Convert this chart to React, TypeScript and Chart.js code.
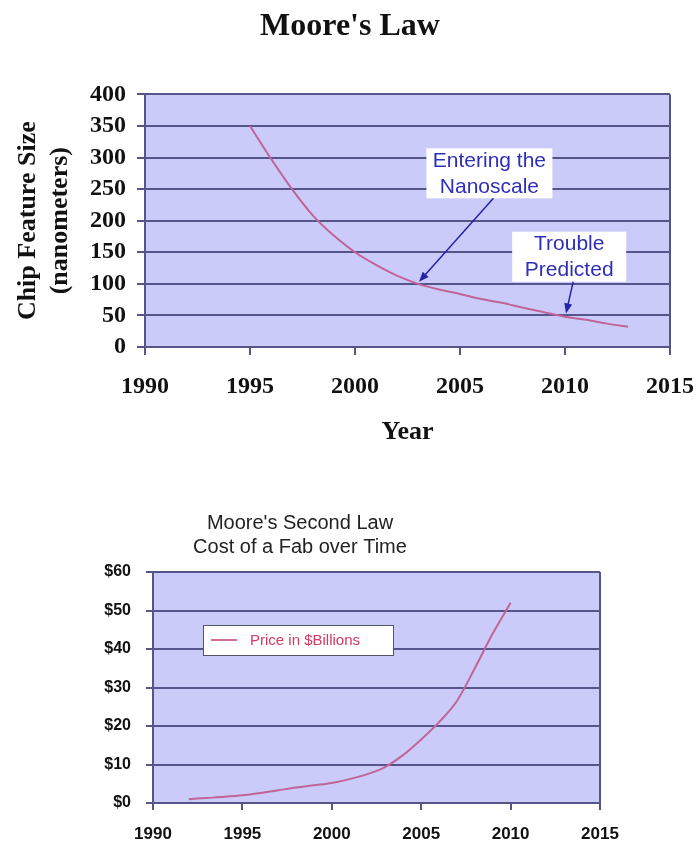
import React, { useEffect, useRef } from "react";
import { Chart, registerables } from "chart.js";
Chart.register(...registerables);

// ---------- Top chart data: Moore's Law ----------
const featureYears = [1995, 1996, 1997, 1998, 1999, 2000, 2001, 2002, 2003, 2004, 2005, 2006, 2007, 2008, 2009, 2010, 2011, 2012, 2013];
const featureSizes = [350, 298, 250, 208, 176, 150, 130, 113, 100, 91, 84, 76, 70, 62, 55, 48, 43, 37, 32];
const topYearTicks = [1990, 1995, 2000, 2005, 2010, 2015];
const topSizeTicks = [0, 50, 100, 150, 200, 250, 300, 350, 400];
const topTitle = "Moore's Law";
const topXTitle = "Year";
const topYTitle = ["Chip Feature Size", "(nanometers)"];
const noteTexts = [["Entering the", "Nanoscale"], ["Trouble", "Predicted"]];
const noteAnchors = [[2006.4, 275], [2010.2, 143]];
const noteTargets = [[2003, 100], [2010, 50]];

// ---------- Bottom chart data: Moore's Second Law ----------
const fabYears = [1992, 1993, 1994, 1995, 1996, 1997, 1998, 1999, 2000, 2001, 2002, 2003, 2004, 2005, 2006, 2007, 2008, 2009, 2010];
const fabCosts = [1.0, 1.3, 1.6, 2.0, 2.6, 3.3, 4.0, 4.6, 5.2, 6.2, 7.5, 9.4, 12.5, 16.5, 21, 26.5, 35, 44, 52];
const bottomYearTicks = [1990, 1995, 2000, 2005, 2010, 2015];
const bottomCostTicks = [0, 10, 20, 30, 40, 50, 60];
const bottomTitle = ["Moore's Second Law", "Cost of a Fab over Time"];
const seriesName = "Price in $Billions";

const PLOT_BG = "#CBCBFA";
const GRID = "#55558A";
const LINE = "#C0649A";
const SERIF = "'Liberation Serif', 'Times New Roman', serif";
const SANS = "'Liberation Sans', Arial, sans-serif";

const plotFrame = {
  id: "plotFrame",
  beforeDraw(chart: any) {
    const { ctx, chartArea } = chart;
    ctx.save();
    ctx.fillStyle = PLOT_BG;
    ctx.fillRect(chartArea.left, chartArea.top, chartArea.width, chartArea.height);
    ctx.restore();
  },
  beforeDatasetsDraw(chart: any) {
    const { ctx, chartArea } = chart;
    ctx.save();
    ctx.strokeStyle = GRID;
    ctx.lineWidth = 2;
    ctx.beginPath();
    ctx.moveTo(chartArea.right, chartArea.top);
    ctx.lineTo(chartArea.right, chartArea.bottom);
    ctx.stroke();
    ctx.restore();
  },
};

function drawArrow(ctx: CanvasRenderingContext2D, x1: number, y1: number, x2: number, y2: number, color: string) {
  const ang = Math.atan2(y2 - y1, x2 - x1);
  const L = 10, W = 4;
  ctx.strokeStyle = color;
  ctx.fillStyle = color;
  ctx.lineWidth = 1.5;
  ctx.beginPath();
  ctx.moveTo(x1, y1);
  ctx.lineTo(x2 - L * 0.7 * Math.cos(ang), y2 - L * 0.7 * Math.sin(ang));
  ctx.stroke();
  ctx.beginPath();
  ctx.moveTo(x2, y2);
  ctx.lineTo(x2 - L * Math.cos(ang) + W * Math.sin(ang), y2 - L * Math.sin(ang) - W * Math.cos(ang));
  ctx.lineTo(x2 - L * Math.cos(ang) - W * Math.sin(ang), y2 - L * Math.sin(ang) + W * Math.cos(ang));
  ctx.closePath();
  ctx.fill();
}

const noteBoxWidths = [126, 114];
const notesPlugin = {
  id: "notes",
  afterDatasetsDraw(chart: any) {
    const { ctx } = chart;
    const xs = chart.scales.x, ys = chart.scales.y;
    ctx.save();
    noteTexts.forEach((lines, i) => {
      const cx = xs.getPixelForValue(noteAnchors[i][0]);
      const cy = ys.getPixelForValue(noteAnchors[i][1]);
      const w = noteBoxWidths[i];
      const lh = 26;
      const h = lines.length * lh - 2;
      ctx.fillStyle = "#FFFFFF";
      ctx.fillRect(cx - w / 2, cy - h / 2, w, h);
      ctx.font = `21px ${SANS}`;
      ctx.fillStyle = "#2E2EB8";
      ctx.textAlign = "center";
      ctx.textBaseline = "middle";
      lines.forEach((t, j) => {
        ctx.fillText(t, cx, cy - h / 2 + lh / 2 + j * lh);
      });
      const tx = xs.getPixelForValue(noteTargets[i][0]);
      const ty = ys.getPixelForValue(noteTargets[i][1]);
      drawArrow(ctx, cx + 4, cy + h / 2, tx + 1, ty - 2, "#2424A8");
    });
    ctx.restore();
  },
};

const legendPlugin = {
  id: "insideLegend",
  afterDatasetsDraw(chart: any) {
    const { ctx, chartArea } = chart;
    const x = chartArea.left + 50, y = chartArea.top + 53, w = 190, h = 30;
    ctx.save();
    ctx.fillStyle = "#FFFFFF";
    ctx.fillRect(x, y, w, h);
    ctx.strokeStyle = "#555566";
    ctx.lineWidth = 1;
    ctx.strokeRect(x + 0.5, y + 0.5, w, h);
    ctx.strokeStyle = "#D0709A";
    ctx.lineWidth = 2;
    ctx.beginPath();
    ctx.moveTo(x + 8, y + h / 2);
    ctx.lineTo(x + 34, y + h / 2);
    ctx.stroke();
    ctx.font = `15px ${SANS}`;
    ctx.fillStyle = "#D43A62";
    ctx.textAlign = "left";
    ctx.textBaseline = "middle";
    ctx.fillText(chart.data.datasets[0].label, x + 47, y + h / 2 + 1);
    ctx.restore();
  },
};

function TopChart() {
  const ref = useRef<HTMLCanvasElement>(null);
  useEffect(() => {
    const chart = new Chart(ref.current!, {
      type: "line",
      data: {
        datasets: [
          {
            label: "Feature size",
            data: featureYears.map((x, i) => ({ x, y: featureSizes[i] })),
            borderColor: LINE,
            borderWidth: 2,
            pointRadius: 0,
            tension: 0.4,
            cubicInterpolationMode: "monotone",
          },
        ],
      },
      options: {
        animation: false,
        responsive: false,
        layout: { padding: { left: 0, right: 0, top: 0, bottom: 0 } },
        plugins: {
          legend: { display: false },
          tooltip: { enabled: false },
          title: {
            display: true,
            text: topTitle,
            color: "#111",
            font: { family: SERIF, size: 32, weight: "bold", lineHeight: 1.2 },
            padding: { top: 8, bottom: 48 },
          },
        },
        scales: {
          x: {
            type: "linear",
            min: topYearTicks[0],
            max: topYearTicks[topYearTicks.length - 1],
            afterBuildTicks: (s: any) => { s.ticks = topYearTicks.map((v) => ({ value: v })); },
            afterFit: (s: any) => { s.height = 123; s.paddingRight = 30; },
            grid: { drawOnChartArea: false, drawTicks: true, tickLength: 8, color: GRID, lineWidth: 2 },
            border: { display: true, color: GRID, width: 2 },
            ticks: { callback: (v: any) => String(v), color: "#111", padding: 17, autoSkip: false, maxRotation: 0, font: { family: SERIF, size: 24, weight: "bold" } },
            title: { display: true, text: topXTitle, color: "#111", font: { family: SERIF, size: 26, weight: "bold", lineHeight: 1.2 }, padding: { top: 0, bottom: 22 } },
          },
          y: {
            type: "linear",
            min: topSizeTicks[0],
            max: topSizeTicks[topSizeTicks.length - 1],
            afterBuildTicks: (s: any) => { s.ticks = topSizeTicks.map((v) => ({ value: v })); },
            afterFit: (s: any) => { s.width = 145; },
            grid: { drawTicks: true, tickLength: 8, color: GRID, lineWidth: 2 },
            border: { display: true, color: GRID, width: 2 },
            ticks: { callback: (v: any) => String(v), color: "#111", padding: 11, autoSkip: false, font: { family: SERIF, size: 24, weight: "bold" } },
            title: { display: true, text: topYTitle, color: "#111", font: { family: SERIF, size: 26, weight: "bold", lineHeight: 1.25 }, padding: { top: 12, bottom: 0 } },
          },
        },
      } as any,
      plugins: [plotFrame, notesPlugin],
    });
    return () => chart.destroy();
  }, []);
  return <canvas ref={ref} width={700} height={470} style={{ display: "block" }} />;
}

function BottomChart() {
  const ref = useRef<HTMLCanvasElement>(null);
  useEffect(() => {
    const chart = new Chart(ref.current!, {
      type: "line",
      data: {
        datasets: [
          {
            label: seriesName,
            data: fabYears.map((x, i) => ({ x, y: fabCosts[i] })),
            borderColor: LINE,
            borderWidth: 2,
            pointRadius: 0,
            tension: 0.4,
            cubicInterpolationMode: "monotone",
          },
        ],
      },
      options: {
        animation: false,
        responsive: false,
        layout: { padding: { left: 0, right: 100, top: 0, bottom: 0 } },
        plugins: {
          legend: { display: false },
          tooltip: { enabled: false },
          title: {
            display: true,
            text: bottomTitle,
            color: "#222",
            font: { family: SANS, size: 20, weight: "normal", lineHeight: 1.2 },
            padding: { top: 41, bottom: 13 },
          },
        },
        scales: {
          x: {
            type: "linear",
            min: bottomYearTicks[0],
            max: bottomYearTicks[bottomYearTicks.length - 1],
            afterBuildTicks: (s: any) => { s.ticks = bottomYearTicks.map((v) => ({ value: v })); },
            afterFit: (s: any) => { s.height = 41; },
            grid: { drawOnChartArea: false, drawTicks: true, tickLength: 7, color: GRID, lineWidth: 2 },
            border: { display: true, color: GRID, width: 2 },
            ticks: { callback: (v: any) => String(v), color: "#111", padding: 14, autoSkip: false, maxRotation: 0, font: { family: SANS, size: 17, weight: "bold" } },
          },
          y: {
            type: "linear",
            min: bottomCostTicks[0],
            max: bottomCostTicks[bottomCostTicks.length - 1],
            afterBuildTicks: (s: any) => { s.ticks = bottomCostTicks.map((v) => ({ value: v })); },
            afterFit: (s: any) => { s.width = 153; },
            grid: { drawTicks: true, tickLength: 7, color: GRID, lineWidth: 2 },
            border: { display: true, color: GRID, width: 2 },
            ticks: { callback: (v: any) => "$" + v, color: "#111", padding: 15, autoSkip: false, font: { family: SANS, size: 16, weight: "bold" } },
          },
        },
      } as any,
      plugins: [plotFrame, legendPlugin],
    });
    return () => chart.destroy();
  }, []);
  return <canvas ref={ref} width={700} height={374} style={{ display: "block" }} />;
}

export default function App() {
  return (
    <div style={{ position: "absolute", left: 0, top: 0, width: 700, height: 844, background: "#FFFFFF" }}>
      <TopChart />
      <BottomChart />
    </div>
  );
}
